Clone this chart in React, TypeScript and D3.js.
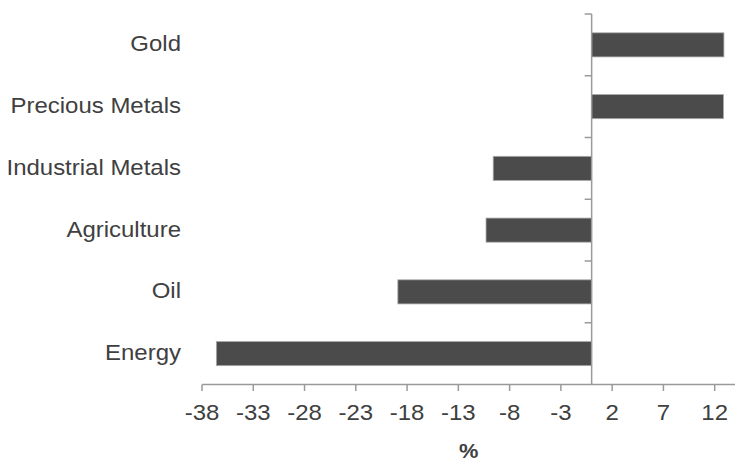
import React from "react";
import * as d3 from "d3";

const categories = ["Gold", "Precious Metals", "Industrial Metals", "Agriculture", "Oil", "Energy"];
const values = [12.9, 12.85, -9.6, -10.3, -18.9, -36.6];
const tickValues = [-38, -33, -28, -23, -18, -13, -8, -3, 2, 7, 12];
const xDomain = [-38, 14];
const axisTitle = "%";

const W = 735;
const H = 460;
const left = 202;
const right = 735.2;
const top = 14;
const bottom = 384.5;

export default function App() {
  const x = d3.scaleLinear().domain(xDomain).range([left, right]);
  const y = d3.scaleBand<string>().domain(categories).range([top, bottom]).padding(0);
  const bw = y.bandwidth();
  const barH = bw * 0.39;
  const x0 = x(0);
  const font = "'Liberation Sans', Arial, sans-serif";
  const axisColor = "#9a9a9a";
  const textColor = "#404040";
  const boundaries = d3.range(categories.length + 1).map((i) => top + i * bw);
  const sx = 1.09;

  return (
    <svg
      width={W}
      height={H}
      style={{ position: "absolute", left: 0, top: 0, background: "#fff" }}
      fontFamily={font}
    >
      {/* bars */}
      {categories.map((c, i) => {
        const v = values[i];
        const cy = (y(c) as number) + bw / 2;
        return (
          <rect
            key={c}
            x={Math.min(x(v), x0)}
            y={cy - barH / 2}
            width={Math.abs(x(v) - x0)}
            height={barH}
            fill="#4b4b4b"
            stroke="#a8a8a8"
            strokeWidth={0.8}
          />
        );
      })}
      {/* vertical axis */}
      <line x1={x0} x2={x0} y1={top} y2={bottom} stroke={axisColor} strokeWidth={1.5} />
      {boundaries.slice(0, -1).map((b, i) => (
        <line key={i} x1={x0 - 7} x2={x0} y1={b} y2={b} stroke={axisColor} strokeWidth={1.5} />
      ))}
      {/* horizontal axis */}
      <line x1={left} x2={right} y1={bottom} y2={bottom} stroke={axisColor} strokeWidth={1.5} />
      {tickValues.map((t) => (
        <g key={t}>
          <line x1={x(t)} x2={x(t)} y1={bottom} y2={bottom + 6.5} stroke={axisColor} strokeWidth={1.5} />
          <text
            transform={`translate(${x(t)},419.5) scale(${sx},1)`}
            textAnchor="middle"
            fontSize={22}
            fill={textColor}
          >
            {t}
          </text>
        </g>
      ))}
      {/* category labels */}
      {categories.map((c) => (
        <text
          key={c}
          transform={`translate(181,${(y(c) as number) + bw / 2 + 6.5}) scale(${sx},1)`}
          textAnchor="end"
          fontSize={22}
          fill={textColor}
        >
          {c}
        </text>
      ))}
      <text
        transform={`translate(${(left + right) / 2},457.5) scale(${sx},1)`}
        textAnchor="middle"
        fontSize={20}
        fontWeight="bold"
        fill={textColor}
      >
        {axisTitle}
      </text>
    </svg>
  );
}
